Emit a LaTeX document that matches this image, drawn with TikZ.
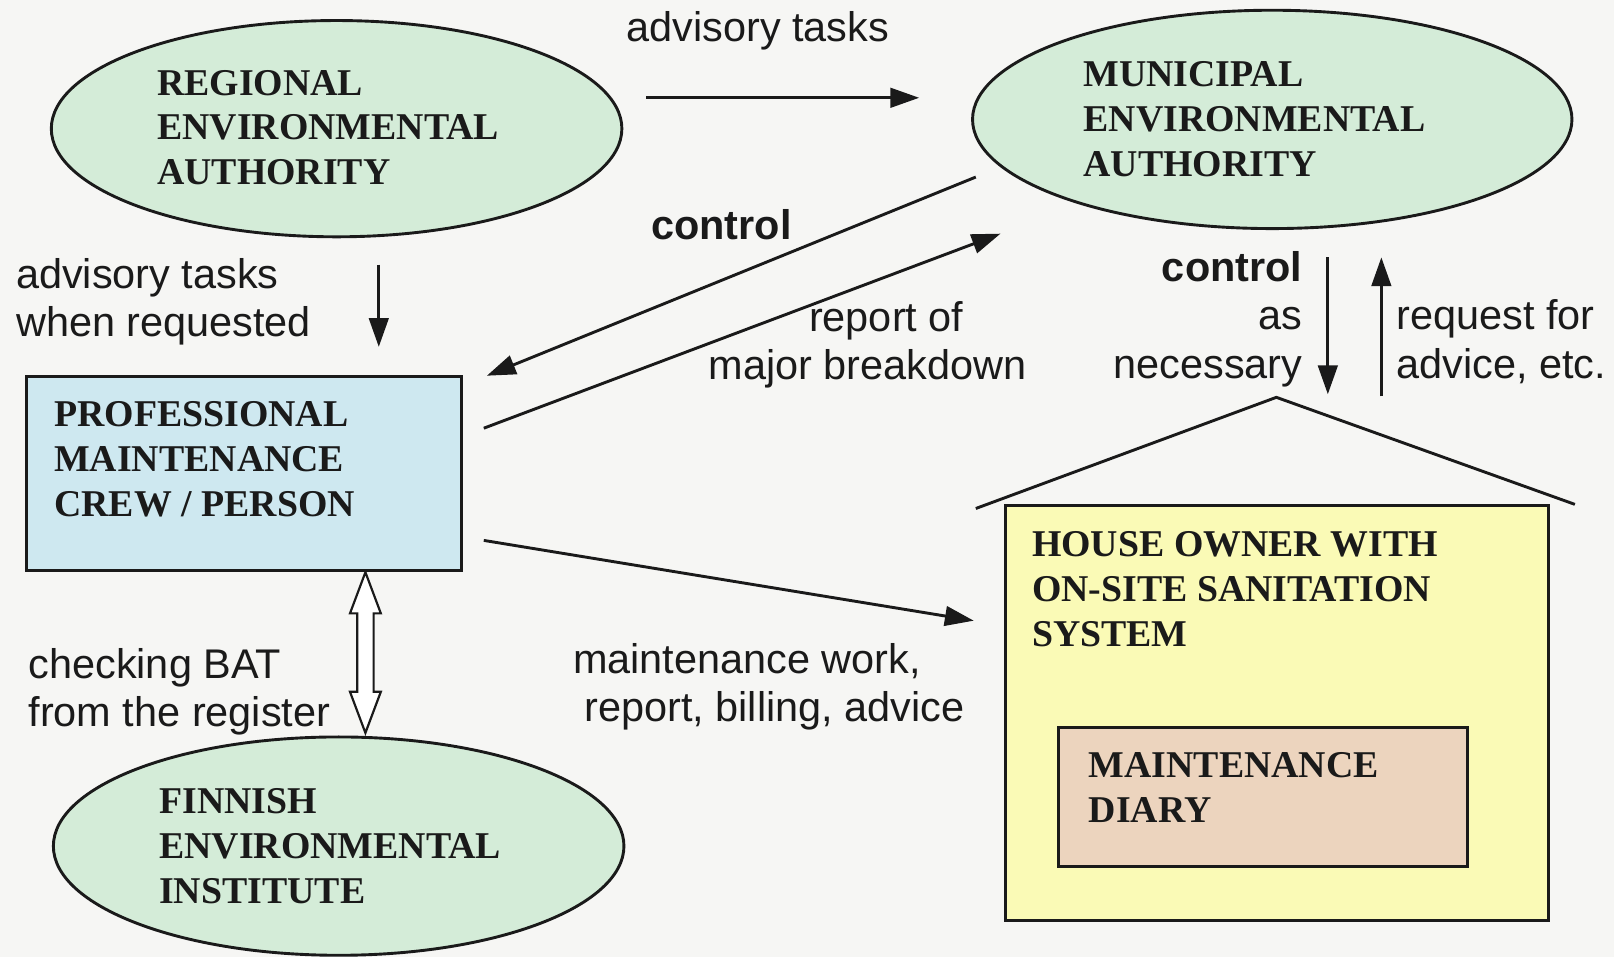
\documentclass[tikz,border=0pt]{standalone}
\usepackage{fontspec}
\setmainfont{Liberation Serif}
\newfontfamily\arial{Liberation Sans}
\usetikzlibrary{shapes.geometric,arrows.meta,calc}
\definecolor{bgpaper}{HTML}{F6F6F4}
\definecolor{ovalgreen}{HTML}{D4ECD8}
\definecolor{boxblue}{HTML}{CEE8F0}
\definecolor{houseyellow}{HTML}{FAFAB6}
\definecolor{diarytan}{HTML}{ECD4BE}
\definecolor{inkline}{HTML}{1A1A1A}
\begin{document}
\begin{tikzpicture}[x=0.01cm,y=-0.01cm,
  box/.style={draw=inkline, line width=0.8pt},
  oval/.style={ellipse, draw=inkline, line width=0.8pt, fill=ovalgreen, inner sep=0pt},
  title/.style={font=\fontsize{10.45}{12.4}\selectfont\bfseries, align=left, anchor=west, inner sep=0pt, text=inkline},
  lab/.style={font=\arial\fontsize{11.45}{13.4}\selectfont, inner sep=0pt, text=inkline},
  arr/.style={draw=inkline, line width=0.8pt, -{Triangle[length=0.28cm,width=0.19cm]}}]
% background / bounding box
\fill[bgpaper] (0,0) rectangle (1568,930);
\useasboundingbox (0,0) rectangle (1568,930);

% ellipses
\node[oval, minimum width=5.54cm, minimum height=2.10cm] (reg) at (327,125) {};
\node[title] (regt) at (152,124) {REGIONAL\\ENVIRONMENTAL\\AUTHORITY};
\node[oval, minimum width=5.82cm, minimum height=2.12cm] (mun) at (1236,116) {};
\node[title] (munt) at (1052,116) {MUNICIPAL\\ENVIRONMENTAL\\AUTHORITY};
\node[oval, minimum width=5.54cm, minimum height=2.12cm] (fin) at (329,822) {};
\node[title] (fint) at (154,822) {FINNISH\\ENVIRONMENTAL\\INSTITUTE};

% professional box
\node[box, fill=boxblue, minimum width=4.23cm, minimum height=1.89cm, anchor=north west, inner sep=0pt] (prof) at (24,364) {};
\node[title] (proft) at (52,446) {PROFESSIONAL\\MAINTENANCE\\CREW / PERSON};

% house
\coordinate (roofL) at (948,494);
\coordinate (roofT) at (1240,386);
\coordinate (roofR) at (1530,490);
\draw[box] (roofL) -- (roofT) -- (roofR);
\node[box, fill=houseyellow, minimum width=5.28cm, minimum height=4.03cm, anchor=north west, inner sep=0pt] (house) at (975,490) {};
\node[title] (houset) at (1002,572) {HOUSE OWNER WITH\\ON-SITE SANITATION\\SYSTEM};
\node[box, fill=diarytan, minimum width=3.97cm, minimum height=1.35cm, anchor=north west, inner sep=0pt] (diary) at (1027,705) {};
\node[title] (diaryt) at (1057,765) {MAINTENANCE\\DIARY};

% arrow end coordinates
\coordinate (a1s) at (628,95);   \coordinate (a1e) at (893,95);
\coordinate (a2s) at (368,257);  \coordinate (a2e) at (368,337);
\coordinate (a3s) at (948,172);  \coordinate (a3e) at (473,365);
\coordinate (a4s) at (470,416);  \coordinate (a4e) at (972,227);
\coordinate (a5s) at (1290,250); \coordinate (a5e) at (1290,383);
\coordinate (a6s) at (1342,385); \coordinate (a6e) at (1342,250);
\coordinate (a7s) at (470,525);  \coordinate (a7e) at (946,603);

\draw[arr] (a1s) -- (a1e);
\draw[arr] (a2s) -- (a2e);
\draw[arr] (a3s) -- (a3e);
\draw[arr] (a4s) -- (a4e);
\draw[arr] (a5s) -- (a5e);
\draw[arr] (a6s) -- (a6e);
\draw[arr] (a7s) -- (a7e);

% hollow double block arrow
\coordinate (bt) at (prof.south -| 355,0);
\coordinate (bb) at (355,712);
\draw[draw=inkline, line width=0.6pt, fill=white]
  (bt) -- ($(bt)+(15,40)$) -- ($(bt)+(8,40)$) -- ($(bb)+(8,-40)$) -- ($(bb)+(15,-40)$)
  -- (bb) -- ($(bb)+(-15,-40)$) -- ($(bb)+(-8,-40)$) -- ($(bt)+(-8,40)$) -- ($(bt)+(-15,40)$) -- cycle;

% labels
\node[lab, anchor=west] (l1) at (608,30) {advisory tasks};
\node[lab, anchor=west, align=left] (l2) at (15,293) {advisory tasks\\when requested};
\node[lab, anchor=west, font=\arial\fontsize{11.45}{13.4}\selectfont\bfseries] (l3) at (632,218) {control};
\node[lab, align=center] (l4) at (843,335) {\hspace*{0.36cm}report of\\major breakdown};
\node[lab, anchor=east, align=right] (l5) at (1266,310) {\textbf{control}\\as\\necessary};
\node[lab, anchor=west, align=left] (l6) at (1356,332) {request for\\advice, etc.};
\node[lab, anchor=west, align=left] (l7) at (556,667) {maintenance work,\\\hspace*{0.11cm}report, billing, advice};
\node[lab, anchor=west, align=left] (l8) at (27,672) {checking BAT\\from the register};
\end{tikzpicture}
\end{document}
